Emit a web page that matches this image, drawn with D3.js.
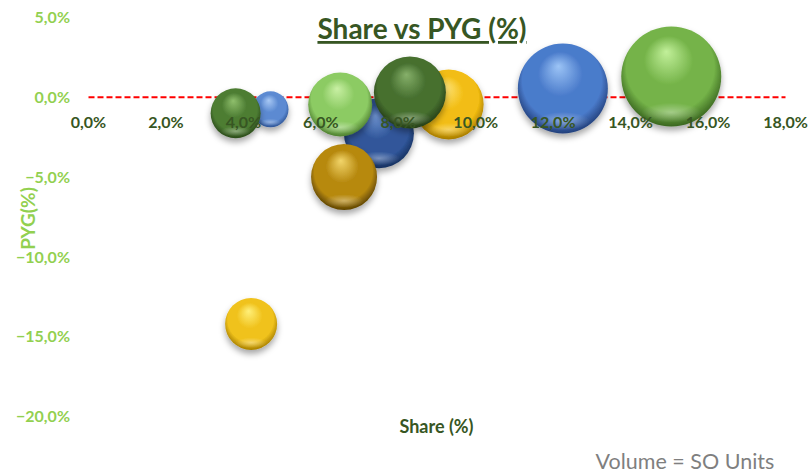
<!DOCTYPE html>
<html>
<head>
<meta charset="utf-8">
<script src="https://cdn.jsdelivr.net/npm/d3@7"></script>
<style>
  body { margin: 0; background: #fff; }
  svg { display: block; font-family: Lato, "Open Sans", sans-serif; }
</style>
</head>
<body>
<svg id="chart" width="812" height="473"></svg>
<script>
// data
const brands = ["A", "B", "C", "D", "E", "F", "G", "H", "I", "J"];
const share = [3.8, 4.7, 6.5, 7.5, 6.6, 8.3, 9.3, 12.25, 15.05, 4.2];   // %
const pyg = [-1.0, -0.75, -0.45, -2.25, -5.0, 0.3, -0.45, 0.55, 1.3, -14.2]; // %
const volume = [625, 324, 1024, 1225, 1089, 1296, 1225, 2025, 2500, 676]; // SO units
const xTicks = [0, 2, 4, 6, 8, 10, 12, 14, 16, 18];
const yTicks = [5, 0, -5, -10, -15, -20];

// palette: [highlight, base, rim]
const palette = [
  ["#8fbf6c", "#4d7d33", "#2a4a1a"],
  ["#a8c8f4", "#5b8ad2", "#2f5596"],
  ["#c9f0a4", "#8ccb63", "#4e7f30"],
  ["#6d92cf", "#30569a", "#16305e"],
  ["#f2d56a", "#b7890f", "#5e4403"],
  ["#86b06a", "#466f2f", "#253e17"],
  ["#ffe57a", "#f2bd12", "#a57a00"],
  ["#9cc4f6", "#4a7bcb", "#223f7a"],
  ["#c2f09a", "#74b348", "#3a6620"],
  ["#fff07a", "#f0c21c", "#a88000"]
];
// drawing order so overlaps match
const order = [1, 0, 3, 4, 2, 6, 5, 7, 8, 9];

const svg = d3.select("#chart");
const defs = svg.append("defs");

const x = d3.scaleLinear().domain([0, 18]).range([88.5, 785.5]);
const y = d3.scaleLinear().domain([-20, 5]).range([416.5, 17.5]);
const r = d3.scaleSqrt().domain([0, d3.max(volume)]).range([0, 50]);

const fmt = d => d3.format(".1f")(d).replace(".", ",") + "%";

defs.append("filter").attr("id", "shadow")
  .attr("x", "-30%").attr("y", "-30%").attr("width", "160%").attr("height", "170%")
  .append("feDropShadow")
  .attr("dx", 0).attr("dy", 4).attr("stdDeviation", 3)
  .attr("flood-color", "#000").attr("flood-opacity", 0.35);

palette.forEach((c, i) => {
  const g = defs.append("radialGradient").attr("id", "g" + i)
    .attr("cx", "0.5").attr("cy", "0.45").attr("r", "0.55")
    .attr("fx", "0.45").attr("fy", "0.25");
  g.append("stop").attr("offset", "0%").attr("stop-color", c[0]);
  g.append("stop").attr("offset", "45%").attr("stop-color", c[1]);
  g.append("stop").attr("offset", "80%").attr("stop-color", c[1]);
  g.append("stop").attr("offset", "100%").attr("stop-color", c[2]);
});
const glow = defs.append("radialGradient").attr("id", "glow")
  .attr("cx", "0.5").attr("cy", "0.5").attr("r", "0.5");
glow.append("stop").attr("offset", "0%").attr("stop-color", "#fff").attr("stop-opacity", 0.35);
glow.append("stop").attr("offset", "100%").attr("stop-color", "#fff").attr("stop-opacity", 0);

// zero line (x axis line)
svg.append("line")
  .attr("x1", x(0)).attr("x2", x(18))
  .attr("y1", y(0)).attr("y2", y(0))
  .attr("stroke", "#ff0000").attr("stroke-width", 2)
  .attr("stroke-dasharray", "6,3");

// bubbles
const bub = svg.append("g").selectAll("g")
  .data(order)
  .join("g")
  .attr("filter", "url(#shadow)");
bub.append("circle")
  .attr("cx", i => x(share[i]))
  .attr("cy", i => y(pyg[i]))
  .attr("r", i => r(volume[i]))
  .attr("fill", i => "url(#g" + i + ")");
bub.append("ellipse")
  .attr("cx", i => x(share[i]))
  .attr("cy", i => y(pyg[i]) + r(volume[i]) * 0.72)
  .attr("rx", i => r(volume[i]) * 0.6)
  .attr("ry", i => r(volume[i]) * 0.2)
  .attr("fill", "url(#glow)");

// y tick labels
svg.append("g").selectAll("text")
  .data(yTicks)
  .join("text")
  .attr("x", 70).attr("y", d => y(d)).attr("dy", "0.35em")
  .attr("text-anchor", "end")
  .attr("font-size", 16).attr("font-weight", "bold")
  .attr("fill", "#92d050")
  .text(fmt);

// x tick labels (on top of bubbles)
svg.append("g").selectAll("text")
  .data(xTicks)
  .join("text")
  .attr("x", d => x(d)).attr("y", y(0) + 25).attr("dy", "0.35em")
  .attr("text-anchor", "middle")
  .attr("font-size", 16).attr("font-weight", "bold")
  .attr("fill", "#375623")
  .text(fmt);

// title
svg.append("text")
  .attr("x", 422).attr("y", 39)
  .attr("text-anchor", "middle")
  .attr("font-size", 28).attr("font-weight", "bold")
  .attr("fill", "#375623")
  .attr("text-decoration", "underline")
  .text("Share vs PYG (%)");

// axis titles
svg.append("text")
  .attr("transform", "translate(35,218.5) rotate(-90)")
  .attr("text-anchor", "middle")
  .attr("font-size", 19).attr("font-weight", "bold")
  .attr("fill", "#92d050")
  .text("PYG(%)");
svg.append("text")
  .attr("x", 436.5).attr("y", 433)
  .attr("text-anchor", "middle")
  .attr("font-size", 18).attr("font-weight", "bold")
  .attr("fill", "#375623")
  .text("Share (%)");

svg.append("text")
  .attr("x", 685).attr("y", 469)
  .attr("text-anchor", "middle")
  .attr("font-size", 21.5)
  .attr("fill", "#7f7f7f")
  .text("Volume = SO Units");
</script>
</body>
</html>
